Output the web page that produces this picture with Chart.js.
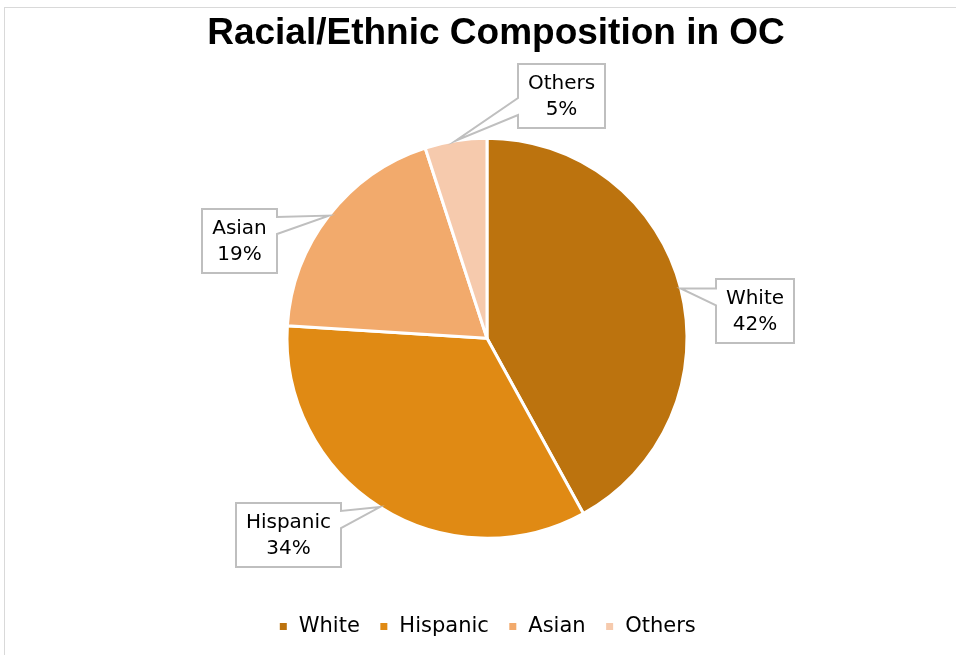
<!DOCTYPE html>
<html>
<head>
<meta charset="utf-8">
<script src="https://cdn.jsdelivr.net/npm/chart.js@4"></script>
<style>
  html, body { margin: 0; padding: 0; background: #fff; }
  #wrap { position: relative; width: 956px; height: 655px; }
  #frame { position: absolute; left: 4px; top: 7px; right: -2px; bottom: -2px;
           border-left: 1px solid #d9d9d9; border-top: 1px solid #d9d9d9; pointer-events: none; }
</style>
</head>
<body>
<div id="wrap">
  <canvas id="pieChart" width="956" height="655"></canvas>
  <div id="frame"></div>
</div>
<script>
var chartTitle = 'Racial/Ethnic Composition in OC';
var categories = ['White', 'Hispanic', 'Asian', 'Others'];
var shares = [42, 34, 19, 5];
var sliceColors = ['#BC730E', '#E08A14', '#F2AA6C', '#F6CAAD'];

// where each callout box sits, relative to the edge point of its slice
var calloutOffsets = [[74, 23], [-91, 28], [-89, 25], [106, -45]];

// title is centred a little right of the pie, so it is drawn by hand
const titlePlugin = {
  id: 'chartTitle',
  afterDraw(chart) {
    const ctx = chart.ctx;
    ctx.save();
    ctx.font = 'bold 37px "Liberation Sans", Arial, sans-serif';
    ctx.fillStyle = '#000';
    ctx.textAlign = 'center';
    ctx.textBaseline = 'alphabetic';
    ctx.fillText(chartTitle, chart.width / 2 + 18, 44);
    ctx.restore();
  }
};

const calloutPlugin = {
  id: 'callouts',
  afterDatasetsDraw(chart) {
    const ctx = chart.ctx;
    const meta = chart.getDatasetMeta(0);
    ctx.save();
    ctx.font = '20px "DejaVu Sans"';
    meta.data.forEach((arc, i) => {
      const p = arc.getProps(['x', 'y', 'startAngle', 'endAngle', 'outerRadius'], true);
      const mid = (p.startAngle + p.endAngle) / 2;
      const ax = p.x + Math.cos(mid) * p.outerRadius;
      const ay = p.y + Math.sin(mid) * p.outerRadius;
      const lines = [categories[i], shares[i] + '%'];
      const w = Math.round(Math.max(...lines.map(t => ctx.measureText(t).width)) + 20);
      const h = 64;
      const cx = ax + calloutOffsets[i][0], cy = ay + calloutOffsets[i][1];
      const left = Math.round(cx - w / 2), top = Math.round(cy - h / 2);
      const right = left + w, bottom = top + h;
      // pointer base on the side facing the slice
      const y1 = Math.min(Math.max(ay, top + 8), bottom - 30);
      const y2 = y1 + 17;
      ctx.beginPath();
      if (ax < left) {
        ctx.moveTo(left, top); ctx.lineTo(right, top); ctx.lineTo(right, bottom); ctx.lineTo(left, bottom);
        ctx.lineTo(left, y2); ctx.lineTo(ax, ay); ctx.lineTo(left, y1);
      } else {
        ctx.moveTo(left, top); ctx.lineTo(right, top); ctx.lineTo(right, y1); ctx.lineTo(ax, ay);
        ctx.lineTo(right, y2); ctx.lineTo(right, bottom); ctx.lineTo(left, bottom);
      }
      ctx.closePath();
      ctx.fillStyle = '#fff';
      ctx.fill();
      ctx.strokeStyle = '#bfbfbf';
      ctx.lineWidth = 2;
      ctx.stroke();
      ctx.fillStyle = '#000';
      ctx.textAlign = 'center';
      ctx.textBaseline = 'middle';
      ctx.fillText(lines[0], (left + right) / 2, top + 20);
      ctx.fillText(lines[1], (left + right) / 2, top + 46);
    });
    ctx.restore();
  }
};

const configPie = {
  type: 'pie',
  data: {
    labels: categories,
    datasets: [{
      data: shares,
      backgroundColor: sliceColors,
      borderColor: '#fff',
      borderWidth: 3,
      radius: 200
    }]
  },
  options: {
    responsive: false,
    animation: false,
    layout: { padding: { left: 18, top: 79.4, bottom: 8 } },
    plugins: {
      title: { display: false },
      legend: {
        position: 'bottom',
        labels: {
          boxWidth: 10,
          boxHeight: 10,
          padding: 19,
          color: '#000',
          font: { family: '"DejaVu Sans", sans-serif', size: 21 }
        }
      },
      tooltip: { enabled: false }
    }
  },
  plugins: [titlePlugin, calloutPlugin]
};

window.onload = function() {
  new Chart(document.getElementById('pieChart').getContext('2d'), configPie);
};
</script>
</body>
</html>
